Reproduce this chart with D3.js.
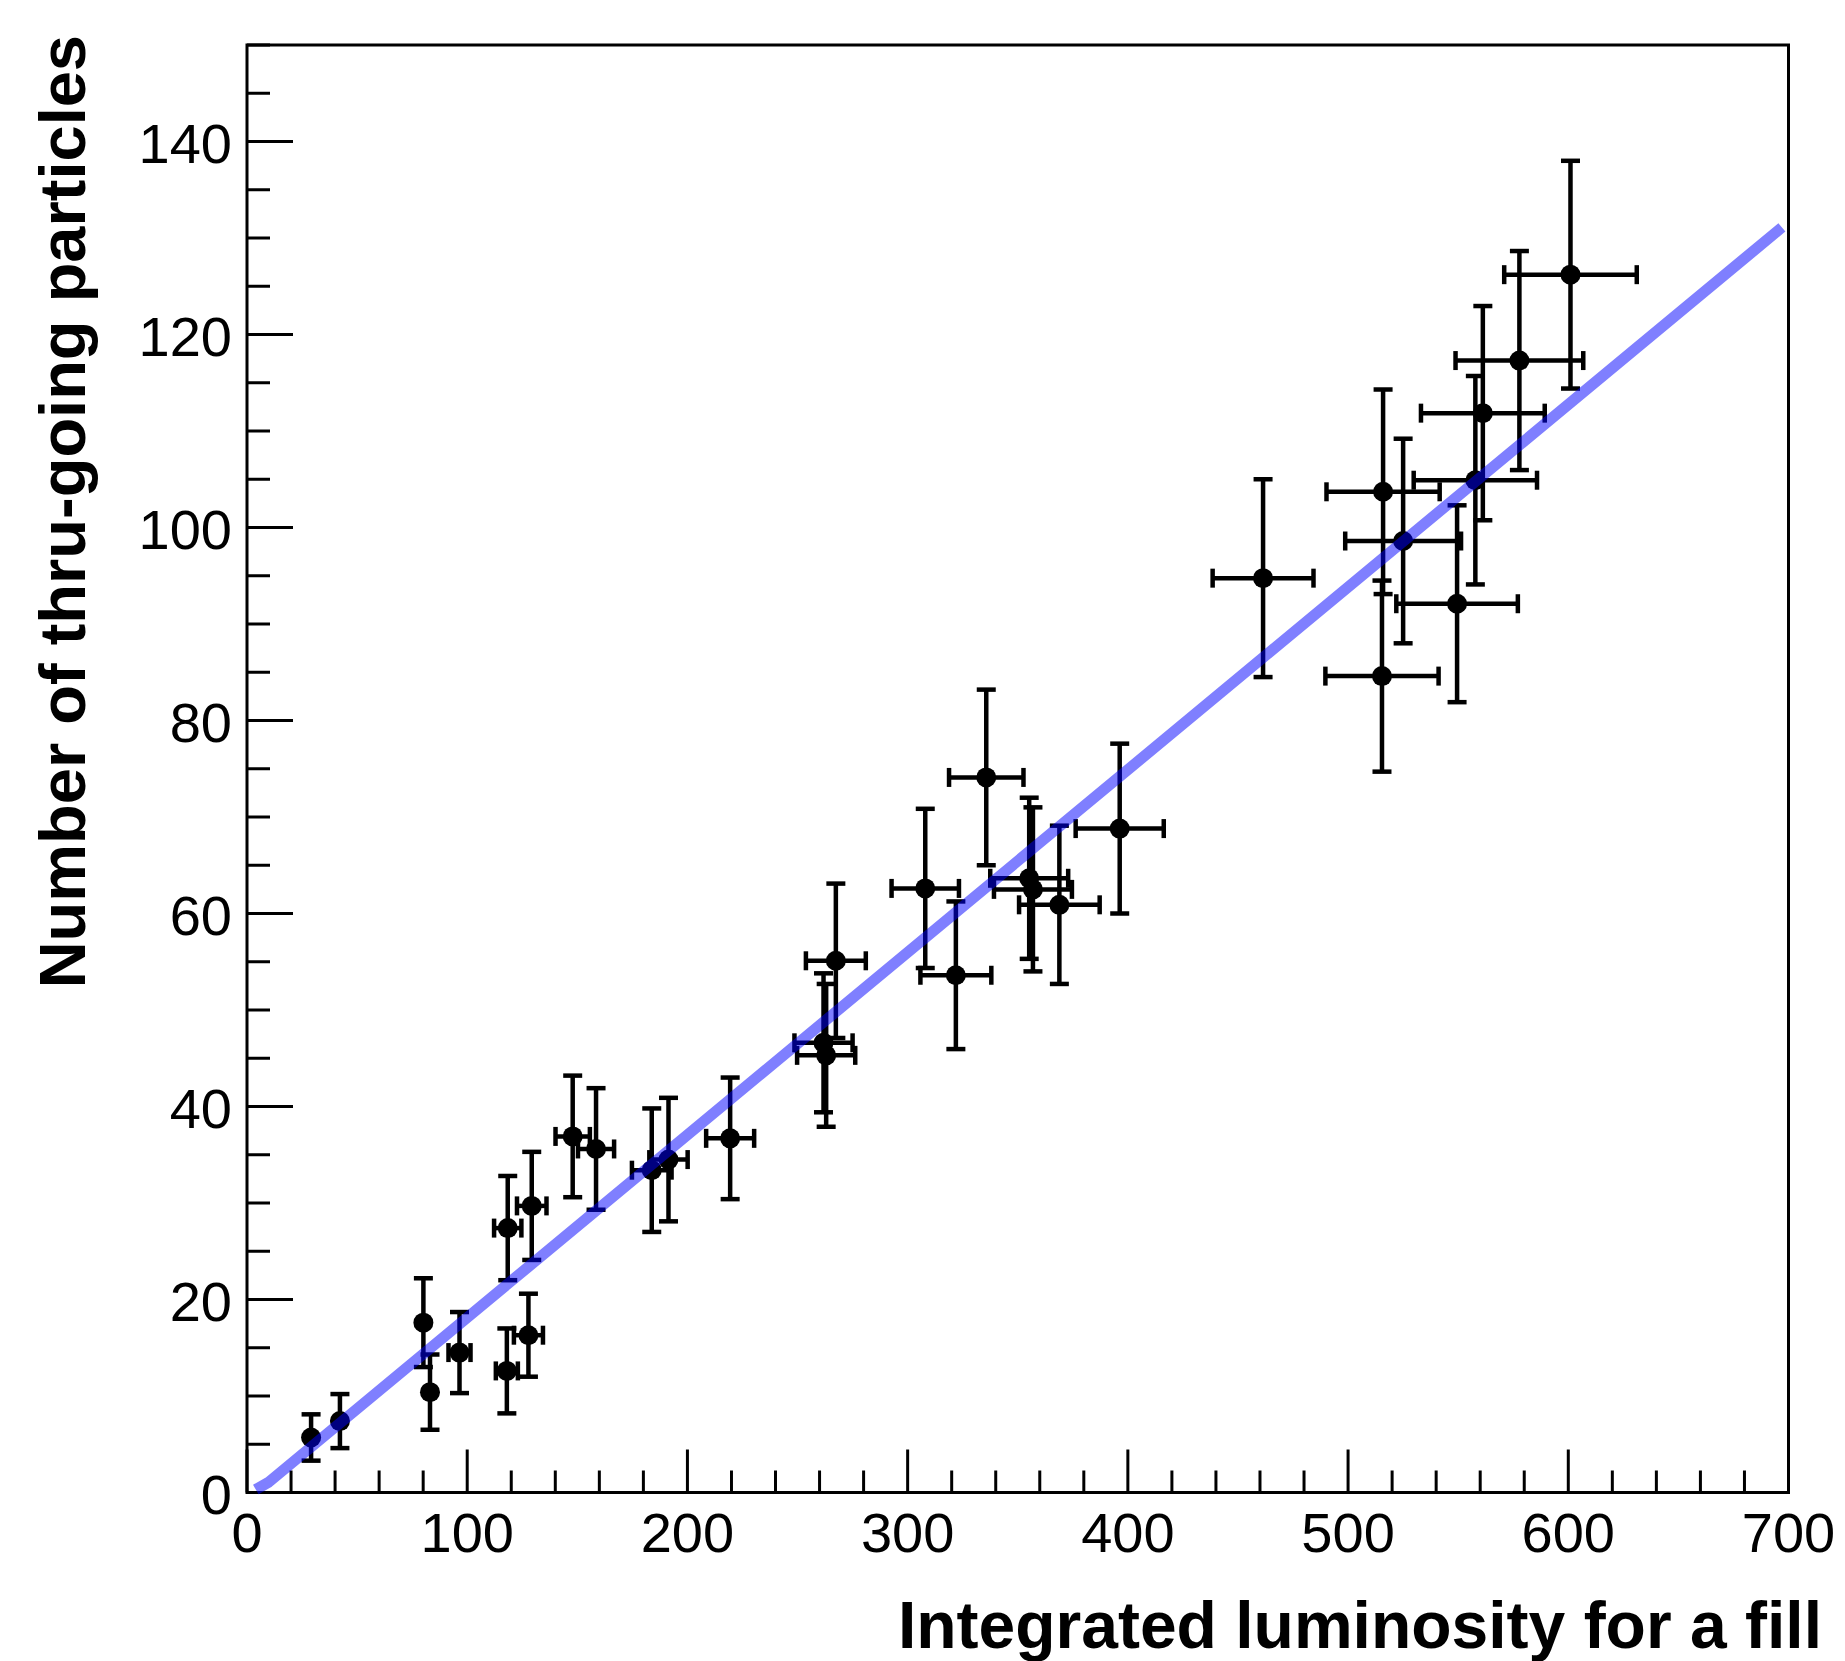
<!DOCTYPE html>
<html>
<head>
<meta charset="utf-8">
<script src="https://cdn.jsdelivr.net/npm/d3@7"></script>
<style>
  html, body { margin: 0; padding: 0; background: #fff; }
  svg { display: block; }
</style>
</head>
<body>
<script>
// ---- data ----
const lumi    = [29.1, 42.2, 80.1, 83.1, 96.5, 118.0, 127.8, 118.4, 129.3, 147.9, 158.5, 183.8, 191.4, 219.4, 261.8, 263.0, 267.4, 308.0, 321.9, 335.7, 355.2, 356.9, 368.9, 396.3, 461.4, 515.9, 515.4, 525.0, 549.5, 557.8, 561.2, 577.8, 601.0];
const counts  = [5.7, 7.4, 17.6, 10.4, 14.5, 12.6, 16.3, 27.4, 29.7, 36.9, 35.6, 33.4, 34.5, 36.7, 46.6, 45.3, 55.1, 62.6, 53.6, 74.1, 63.65, 62.5, 60.9, 68.8, 94.75, 103.7, 84.6, 98.6, 92.1, 104.9, 111.85, 117.3, 126.2];
const lumiErr = [1.5, 2.1, 4.0, 4.1, 5.0, 5.0, 6.6, 6.2, 6.7, 7.8, 8.2, 9.0, 8.7, 10.9, 13.2, 13.2, 13.6, 15.3, 16.1, 16.9, 17.7, 17.7, 18.3, 20.0, 22.9, 25.7, 25.7, 26.3, 27.6, 28.0, 28.1, 29.0, 30.1];
const countErr= [2.4, 2.8, 4.6, 3.9, 4.2, 4.4, 4.3, 5.4, 5.6, 6.3, 6.3, 6.4, 6.4, 6.3, 7.2, 7.4, 8.0, 8.25, 7.65, 9.1, 8.35, 8.5, 8.2, 8.8, 10.25, 10.6, 9.9, 10.6, 10.2, 10.8, 11.1, 11.35, 11.8];
const fitX = [4, 10, 697];
const fitY = [0.3, 1.1, 131.1];
const xTicks = [0, 100, 200, 300, 400, 500, 600, 700];
const yTicks = [0, 20, 40, 60, 80, 100, 120, 140];
const xTitle = "Integrated luminosity for a fill";
const yTitle = "Number of thru-going particles";

// ---- layout ----
const W = 1845, H = 1661;
const L = 247, R = 1788.5, T = 45, B = 1492.5;
const markerR = 10, cap = 9.5;

const svg = d3.select("body").append("svg").attr("width", W).attr("height", H);
const x = d3.scaleLinear().domain([0, 700]).range([L, R]);
const y = d3.scaleLinear().domain([0, 150]).range([B, T]);

const font = "'Liberation Sans', Arial, Helvetica, sans-serif";

// frame
svg.append("rect").attr("x", L).attr("y", T).attr("width", R - L).attr("height", B - T)
  .attr("fill", "none").attr("stroke", "#000").attr("stroke-width", 3);

// x axis ticks
const xMinor = d3.range(0, 701, 20);
svg.append("g").selectAll("line").data(xMinor).join("line")
  .attr("x1", d => x(d)).attr("x2", d => x(d))
  .attr("y1", B).attr("y2", d => B - (d % 100 === 0 ? 43 : 22))
  .attr("stroke", "#000").attr("stroke-width", 3);
svg.append("g").selectAll("text").data(xTicks).join("text")
  .attr("x", d => x(d)).attr("y", B + 59.5)
  .attr("text-anchor", "middle").attr("font-family", font).attr("font-size", 56)
  .text(d => d);

// y axis ticks
const yMinor = d3.range(0, 151, 5);
svg.append("g").selectAll("line").data(yMinor).join("line")
  .attr("y1", d => y(d)).attr("y2", d => y(d))
  .attr("x1", L).attr("x2", d => L + (d % 20 === 0 ? 46 : 23))
  .attr("stroke", "#000").attr("stroke-width", 3);
svg.append("g").selectAll("text").data(yTicks).join("text")
  .attr("x", L - 15).attr("y", d => y(d) + 21)
  .attr("text-anchor", "end").attr("font-family", font).attr("font-size", 56)
  .text(d => d);

// titles
svg.append("text").attr("x", 1822).attr("y", 1648)
  .attr("text-anchor", "end").attr("font-family", font).attr("font-weight", "bold")
  .attr("font-size", 66).text(xTitle);
svg.append("text").attr("transform", "translate(85,35) rotate(-90)")
  .attr("text-anchor", "end").attr("font-family", font).attr("font-weight", "bold")
  .attr("font-size", 65).text(yTitle);

// data points
const pts = lumi.map((v, i) => ({ x: v, y: counts[i], ex: lumiErr[i], ey: countErr[i] }));
const gErr = svg.append("g").attr("stroke", "#000").attr("stroke-width", 4.5).attr("fill", "none");
pts.forEach(p => {
  const cx = x(p.x), cy = y(p.y);
  const exPx = x(p.x + p.ex) - cx;
  const eyTop = y(p.y + p.ey), eyBot = y(p.y - p.ey);
  // vertical
  gErr.append("line").attr("x1", cx).attr("x2", cx).attr("y1", eyTop).attr("y2", eyBot);
  gErr.append("line").attr("x1", cx - cap).attr("x2", cx + cap).attr("y1", eyTop).attr("y2", eyTop);
  gErr.append("line").attr("x1", cx - cap).attr("x2", cx + cap).attr("y1", eyBot).attr("y2", eyBot);
  // horizontal (only when it reaches beyond the marker)
  if (exPx > markerR) {
    const xl = x(p.x - p.ex), xr = x(p.x + p.ex);
    gErr.append("line").attr("x1", xl).attr("x2", xr).attr("y1", cy).attr("y2", cy);
    gErr.append("line").attr("x1", xl).attr("x2", xl).attr("y1", cy - cap).attr("y2", cy + cap);
    gErr.append("line").attr("x1", xr).attr("x2", xr).attr("y1", cy - cap).attr("y2", cy + cap);
  }
});
svg.append("g").selectAll("circle").data(pts).join("circle")
  .attr("cx", d => x(d.x)).attr("cy", d => y(d.y)).attr("r", markerR).attr("fill", "#000");

// fit line (semi-transparent blue, drawn on top)
const fitPts = fitX.map((v, i) => [v, fitY[i]]);
svg.append("path").datum(fitPts)
  .attr("d", d3.line().x(d => x(d[0])).y(d => y(d[1])))
  .attr("fill", "none").attr("stroke", "rgba(0,0,255,0.5)").attr("stroke-width", 11)
  .attr("stroke-linejoin", "round");
</script>
</body>
</html>
